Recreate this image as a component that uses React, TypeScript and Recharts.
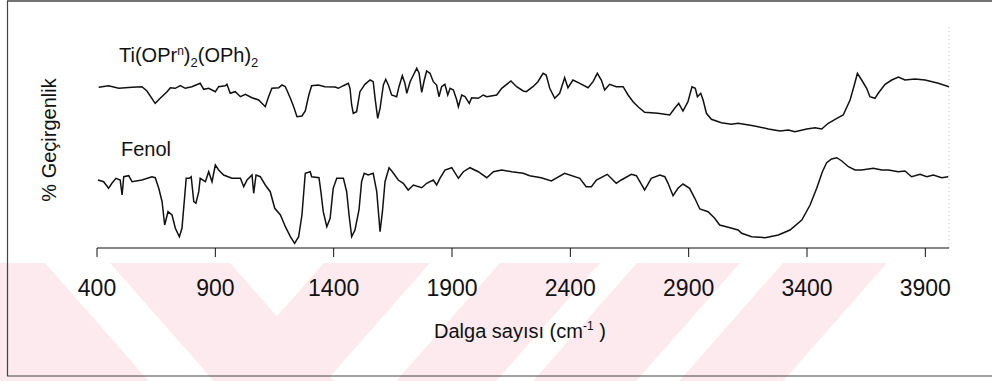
import React from 'react';
import { LineChart, Line, XAxis, YAxis, ReferenceLine } from 'recharts';

// Ti(OPr^n)2(OPh)2 spectrum (upper trace), wavenumber in cm-1 and transmittance (arbitrary units)
const tiWavenumber = [407, 449, 492, 548, 590, 611, 646, 667, 696, 710, 731, 752, 773, 801, 836, 851, 872, 900, 914, 942, 949, 963, 984, 1006, 1027, 1055, 1083, 1111, 1125, 1139, 1168, 1182, 1196, 1217, 1231, 1245, 1266, 1280, 1295, 1307, 1335, 1363, 1406, 1420, 1441, 1462, 1469, 1476, 1483, 1497, 1511, 1532, 1554, 1567, 1575, 1586, 1596, 1610, 1620, 1631, 1645, 1666, 1676, 1690, 1701, 1709, 1723, 1737, 1751, 1761, 1772, 1783, 1793, 1807, 1821, 1835, 1845, 1856, 1870, 1882, 1892, 1906, 1920, 1927, 1941, 1955, 1973, 1983, 2011, 2032, 2047, 2089, 2110, 2149, 2173, 2201, 2214, 2242, 2263, 2285, 2298, 2313, 2334, 2355, 2376, 2390, 2411, 2440, 2475, 2496, 2514, 2531, 2545, 2566, 2594, 2623, 2644, 2665, 2686, 2714, 2770, 2820, 2841, 2858, 2876, 2897, 2914, 2928, 2937, 2951, 2961, 2975, 2996, 3038, 3080, 3109, 3173, 3237, 3286, 3321, 3349, 3399, 3434, 3462, 3490, 3526, 3553, 3582, 3600, 3613, 3631, 3652, 3666, 3687, 3701, 3730, 3758, 3786, 3814, 3856, 3899, 3955, 4000];
const tiTransmittance = [160.7, 162.3, 159.7, 160.7, 161.3, 157, 144.7, 149.7, 156.3, 160.3, 159.7, 162.3, 159.7, 161.3, 164.7, 158.7, 159.7, 156.3, 161.3, 162.3, 163.7, 154.7, 156.3, 151.3, 153.7, 150.3, 148, 141.3, 151.3, 159.7, 160.3, 163, 161.3, 149.7, 141.3, 131.3, 132, 137, 153, 162.3, 163, 161.3, 161, 159.7, 162.3, 164.7, 159.7, 143, 134.7, 136.3, 156.3, 163.7, 168, 166.3, 149.7, 129.7, 139.7, 163, 168.7, 163, 153, 151.3, 161.3, 172.3, 164.7, 154.7, 166.3, 173, 179.7, 174.7, 155.7, 168, 177, 174.7, 166.3, 163, 151.3, 161.3, 163.7, 153, 159.7, 158, 148, 141.3, 153, 151.3, 144.7, 150.3, 149.7, 153, 151.3, 153, 159.7, 167, 161.3, 157, 156.3, 161.3, 166.3, 174.7, 173, 159.7, 149.7, 154.7, 170.3, 160.3, 168, 164.7, 160.3, 166.3, 174.7, 168, 158, 163.7, 161.3, 161.3, 153, 146.3, 141.3, 135.7, 134.7, 133, 139.7, 144.7, 137, 146.3, 161.3, 159.7, 151.3, 154.7, 148, 134.7, 128.7, 125.3, 123.7, 124.7, 122.3, 119, 117, 118, 116.3, 119, 120.3, 119, 124.7, 129.7, 133, 148, 163, 174.7, 168, 159.7, 151.3, 149.7, 154.7, 163.7, 168, 171, 168, 169, 168, 164.7, 161.3];

// Fenol spectrum (lower trace)
const fenolWavenumber = [404, 428, 449, 463, 480, 498, 506, 513, 534, 548, 590, 632, 646, 661, 675, 686, 700, 717, 731, 748, 759, 771, 777, 790, 798, 809, 818, 830, 836, 858, 872, 886, 900, 914, 935, 970, 1006, 1020, 1034, 1055, 1062, 1072, 1090, 1111, 1132, 1151, 1175, 1196, 1217, 1235, 1252, 1266, 1280, 1301, 1307, 1338, 1346, 1356, 1371, 1385, 1398, 1413, 1441, 1455, 1465, 1476, 1490, 1507, 1518, 1529, 1546, 1567, 1582, 1596, 1606, 1617, 1634, 1648, 1673, 1694, 1715, 1737, 1772, 1793, 1821, 1835, 1849, 1870, 1899, 1927, 1948, 1976, 2011, 2047, 2075, 2110, 2152, 2201, 2228, 2277, 2320, 2376, 2440, 2467, 2489, 2510, 2556, 2594, 2615, 2658, 2679, 2714, 2742, 2778, 2799, 2813, 2834, 2855, 2876, 2904, 2926, 2947, 2982, 3010, 3031, 3059, 3109, 3124, 3166, 3223, 3279, 3328, 3378, 3413, 3441, 3465, 3483, 3504, 3526, 3547, 3575, 3603, 3631, 3680, 3716, 3744, 3786, 3814, 3842, 3878, 3906, 3934, 3969, 3997];
const fenolTransmittance = [68, 66.3, 59.7, 64.7, 69.7, 68, 53, 71.3, 72.3, 66.3, 68, 71.3, 70.3, 59.7, 46.3, 23, 36.3, 33, 19.7, 11.3, 19.7, 53, 69.7, 69.7, 71.3, 46.3, 44.7, 56.3, 69.7, 66.3, 76.3, 66.3, 83, 78, 73, 69.7, 69.7, 61.3, 68, 73, 54.7, 73, 71.3, 63, 56.3, 39.7, 33, 21.3, 11.3, 4.7, 11.3, 33, 74.7, 76.3, 71.3, 70.3, 56.3, 36.3, 21.3, 29.7, 59.7, 69.7, 69.7, 56.3, 33, 11.3, 18, 38, 66.3, 74.7, 73, 74.7, 56.3, 16.3, 36.3, 66.3, 80.3, 76.3, 68, 64.7, 58, 63, 60.3, 64.7, 68, 63, 69.7, 78, 80.3, 69.7, 76.3, 80.3, 76.3, 70.3, 76.3, 78, 76.3, 74.7, 72.3, 70.3, 67, 74.7, 69.7, 61.3, 61.3, 68, 73.7, 64.7, 68, 73.7, 72.3, 58, 69.7, 73, 71.3, 64.7, 52.3, 59.7, 64, 59.7, 49.7, 39, 36.3, 29.7, 23, 21.3, 18, 14.7, 11.3, 10.3, 13, 18, 28, 43, 59.7, 76.3, 85.3, 89, 90.3, 87, 81.3, 78, 78, 79.7, 78, 78, 76.3, 77, 71.3, 73.7, 71.3, 73, 70.3, 71.3];

const xTicks = [400, 900, 1400, 1900, 2400, 2900, 3400, 3900];
const xDomain = [400, 4000];
const yDomain = [0, 223];

const tiData = tiWavenumber.map((w, i) => ({ w, t: tiTransmittance[i] }));
const fenolData = fenolWavenumber.map((w, i) => ({ w, t: fenolTransmittance[i] }));

const FONT = '"Liberation Sans", Arial, Helvetica, sans-serif';
const PINK = '#fdeaee';

const W = 992;
const H = 381;

function Watermark() {
  const top = 263;
  const bot = H;
  const d = (bot - top) * 0.88;
  const back = [[-110, 45], [110, 230]];
  const fwd = [[324, 430], [500, 600], [637, 740], [783, 887]];
  return (
    <svg width={W} height={H} style={{ position: 'absolute', left: 0, top: 0 }}>
      {back.map(([a, b], i) => (
        <polygon key={'b' + i} points={`${a},${top} ${b},${top} ${b + d},${bot} ${a + d},${bot}`} fill={PINK} />
      ))}
      {fwd.map(([a, b], i) => (
        <polygon key={'f' + i} points={`${a},${top} ${b},${top} ${b - d},${bot} ${a - d},${bot}`} fill={PINK} />
      ))}
    </svg>
  );
}

function Overlay() {
  return (
    <svg width={W} height={H} style={{ position: 'absolute', left: 0, top: 0, pointerEvents: 'none' }}>
      <line x1={7} y1={1} x2={W} y2={1} stroke="#444" strokeWidth={1.5} />
      <line x1={7.5} y1={1} x2={7.5} y2={376} stroke="#444" strokeWidth={1.2} />
      <line x1={7} y1={376} x2={W} y2={376} stroke="#444" strokeWidth={1.2} />
      <text x={119} y={62} fontFamily={FONT} fontSize={20} fill="#111">
        Ti(OPr<tspan dy={-7} fontSize={12}>n</tspan>
        <tspan dy={7}>)</tspan>
        <tspan dy={5} fontSize={13}>2</tspan>
        <tspan dy={-5}>(OPh)</tspan>
        <tspan dy={5} fontSize={13}>2</tspan>
      </text>
      <text x={121} y={156} fontFamily={FONT} fontSize={20} fill="#111">Fenol</text>
      <text x={434} y={338} fontFamily={FONT} fontSize={20} fill="#111">
        Dalga sayısı (cm<tspan dy={-8} fontSize={12}>-1</tspan>
        <tspan dy={8}> )</tspan>
      </text>
      <text transform="translate(56,140) rotate(-90)" textAnchor="middle" fontFamily={FONT} fontSize={20} fill="#111">
        % Geçirgenlik
      </text>
    </svg>
  );
}

export default function App() {
  return (
    <div style={{ position: 'absolute', left: 0, top: 0, width: W, height: H, background: '#fff', fontFamily: FONT }}>
      <Watermark />
      <div style={{ position: 'absolute', left: 0, top: 0 }}>
        <LineChart width={W} height={H} margin={{ top: 25, right: 43, bottom: 103, left: 97 }}>
          <XAxis
            type="number"
            dataKey="w"
            domain={xDomain}
            ticks={xTicks}
            allowDataOverflow
            height={30}
            tickSize={9}
            tickMargin={23}
            axisLine={{ stroke: '#111', strokeWidth: 1.2 }}
            tickLine={{ stroke: '#111', strokeWidth: 1 }}
            tick={{ fontSize: 23, fill: '#111', fontFamily: FONT }}
          />
          <YAxis
            type="number"
            domain={yDomain}
            allowDataOverflow
            width={0}
            tick={false}
            tickLine={false}
            axisLine={{ stroke: '#333', strokeDasharray: '1 2', strokeWidth: 1 }}
          />
          <ReferenceLine x={4000} stroke="#c8c8c8" strokeDasharray="1 3" ifOverflow="visible" />
          <Line data={tiData} dataKey="t" type="linear" stroke="#111" strokeWidth={1.5} dot={false} isAnimationActive={false} />
          <Line data={fenolData} dataKey="t" type="linear" stroke="#111" strokeWidth={1.5} dot={false} isAnimationActive={false} />
        </LineChart>
      </div>
      <Overlay />
    </div>
  );
}
